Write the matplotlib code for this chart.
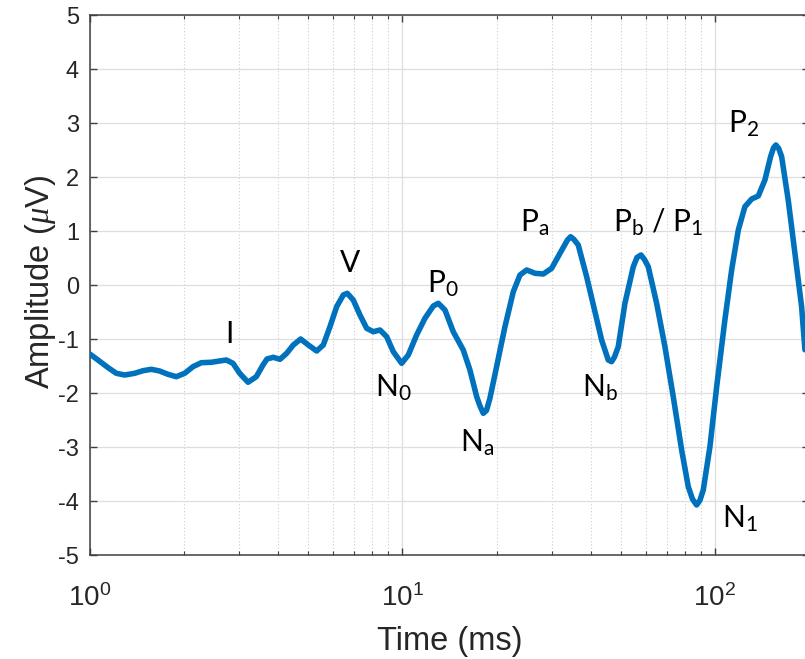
import numpy as np
import matplotlib
matplotlib.use("Agg")
import matplotlib.pyplot as plt
from matplotlib.ticker import LogLocator, NullFormatter

plt.rcParams['font.family'] = ['Liberation Sans', 'DejaVu Sans']
plt.rcParams['mathtext.fontset'] = 'custom'
plt.rcParams['mathtext.rm'] = 'Lato'
plt.rcParams['mathtext.it'] = 'Liberation Serif:italic'
plt.rcParams['mathtext.bf'] = 'Lato:bold'

# ---- data ----
time_ms = [1.000, 1.061, 1.142, 1.214, 1.291, 1.390, 1.478, 1.571, 1.671, 1.776,
           1.889, 2.009, 2.136, 2.271, 2.444, 2.600, 2.731, 2.868, 3.013, 3.204,
           3.406, 3.578, 3.685, 3.860, 4.055, 4.260, 4.473, 4.723, 4.995, 5.314,
           5.580, 5.861, 6.157, 6.465, 6.658, 6.959, 7.311, 7.681, 8.066, 8.472,
           8.900, 9.346, 9.940, 10.44, 11.10, 11.80, 12.55, 13.02, 13.68, 14.54,
           15.65, 16.44, 17.28, 17.70, 18.14, 18.57, 19.05, 20.01, 21.28, 22.63,
           23.77, 24.97, 26.55, 28.23, 30.02, 31.92, 33.73, 34.53, 35.39, 36.52,
           38.85, 41.30, 43.39, 45.56, 46.70, 47.70, 49.04, 51.52, 54.79, 56.30,
           57.98, 59.50, 61.18, 65.08, 69.18, 73.55, 78.25, 82.16, 84.72, 87.38,
           89.50, 91.76, 96.38, 101.3, 107.6, 113.1, 118.8, 124.7, 131.1, 137.6,
           144.5, 150.7, 153.9, 156.7, 160.0, 163.5, 171.6, 180.3, 189.4, 194.1]
amplitude_uv = [-1.28, -1.39, -1.53, -1.635, -1.667, -1.635, -1.587, -1.561, -1.593, -1.654,
                -1.698, -1.635, -1.513, -1.439, -1.431, -1.407, -1.389, -1.450, -1.635, -1.801,
                -1.698, -1.481, -1.370, -1.339, -1.376, -1.265, -1.111, -1.000, -1.111, -1.222,
                -1.111, -0.772, -0.402, -0.185, -0.154, -0.278, -0.556, -0.802, -0.865, -0.833,
                -0.957, -1.235, -1.450, -1.296, -0.926, -0.617, -0.389, -0.339, -0.463, -0.865,
                -1.204, -1.574, -2.069, -2.240, -2.376, -2.324, -2.098, -1.513, -0.772, -0.124,
                0.185, 0.278, 0.217, 0.204, 0.309, 0.587, 0.833, 0.894, 0.843, 0.741,
                0.154, -0.494, -1.019, -1.389, -1.420, -1.333, -1.143, -0.339, 0.339, 0.509,
                0.556, 0.472, 0.339, -0.339, -1.143, -2.069, -3.056, -3.735, -3.963, -4.074,
                -3.990, -3.796, -2.994, -1.883, -0.648, 0.278, 1.019, 1.450, 1.593, 1.648,
                1.944, 2.376, 2.537, 2.593, 2.528, 2.376, 1.574, 0.587, -0.402, -1.20]

peak_labels = ['I', 'V', r'P$_\mathrm{0}$', r'N$_\mathrm{0}$', r'N$_\mathrm{a}$', r'P$_\mathrm{a}$',
               r'N$_\mathrm{b}$', r'P$_\mathrm{b}$ / P$_\mathrm{1}$', r'N$_\mathrm{1}$', r'P$_\mathrm{2}$']
label_t = [2.70, 6.31, 11.98, 8.17, 15.28, 23.77, 37.54, 47.18, 105.3, 110.1]
label_a = [-1.074, 0.241, -0.148, -2.074, -3.093, 0.981, -2.074, 0.981, -4.50, 2.815]

y_ticks = [-5, -4, -3, -2, -1, 0, 1, 2, 3, 4, 5]
y_ticklabels = ['-5', '-4', '-3', '-2', '-1', '0', '1', '2', '3', '4', '5']

# ---- figure ----
W, H = 805, 659
fig = plt.figure(figsize=(W / 100, H / 100), dpi=100)
ax = fig.add_axes([90 / W, 104 / H, 719 / W, 540 / H])

ax.plot(time_ms, amplitude_uv, color='#0072BD', lw=4.0,
        solid_capstyle='round', solid_joinstyle='round', zorder=3)

ax.set_xscale('log')
ax.set_xlim(1, 200)
ax.set_ylim(-5, 5)
ax.set_yticks(y_ticks)
ax.set_yticklabels(y_ticklabels)
ax.xaxis.set_major_locator(LogLocator(base=10, numticks=10))
ax.xaxis.set_minor_locator(LogLocator(base=10, subs=np.arange(2, 10), numticks=30))
ax.xaxis.set_minor_formatter(NullFormatter())

ax.grid(True, which='major', color='#dedede', lw=0.9, zorder=0)
ax.grid(True, which='minor', axis='x', color='#cfcfcf', lw=0.8, ls=(0, (1, 2)), zorder=0)
ax.set_axisbelow(True)

for s in ax.spines.values():
    s.set_color('#404040')
    s.set_linewidth(1.1)

ax.tick_params(which='both', direction='in', top=True, right=True, colors='#404040',
               labelcolor='#262626')
ax.tick_params(which='major', length=5, width=1)
ax.tick_params(which='minor', length=3, width=0.8)
ax.tick_params(axis='y', labelsize=17, pad=8)
ax.tick_params(axis='x', labelsize=20, pad=21)

ax.set_xlabel('Time (ms)', fontsize=23.5, color='#262626')
ax.set_ylabel(r'Amplitude ($\mu$V)', fontsize=23.5, color='#262626')
ax.xaxis.set_label_coords(0.5007, -0.131)
ax.yaxis.set_label_coords(-0.045, 0.505)

for lab, tx, ay in zip(peak_labels, label_t, label_a):
    ax.text(tx, ay, lab, fontsize=21.5, fontfamily='Lato', color='black',
            ha='left', va='baseline', zorder=4)

fig.savefig('out.png', dpi=100)
